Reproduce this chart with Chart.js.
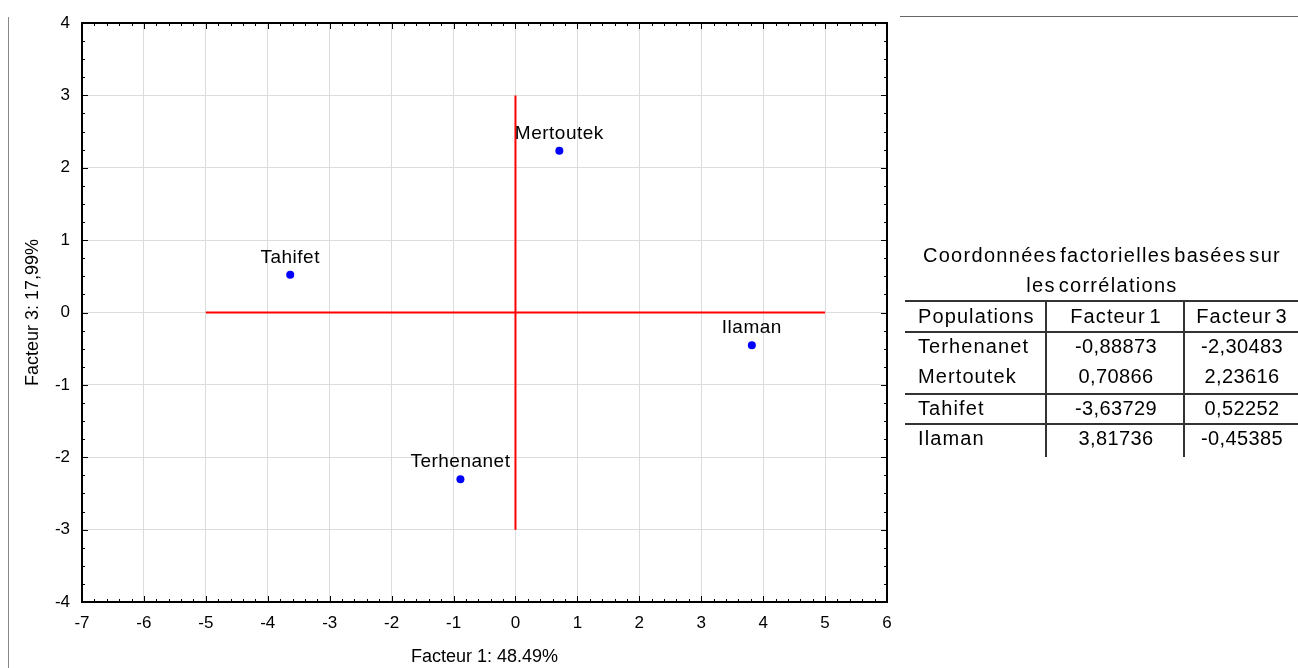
<!DOCTYPE html>
<html>
<head>
<meta charset="utf-8">
<script src="https://cdn.jsdelivr.net/npm/chart.js@4"></script>
<style>
    body { margin: 0; background: #fff; font-family: "Liberation Sans", Arial, sans-serif; color: #000; }
    #wrap { position: relative; width: 1298px; height: 668px; overflow: hidden; }
    #idChartFacteurs { position: absolute; left: 0; top: 0; }
    .hline { position: absolute; height: 2px; background: #333; }
    .vline { position: absolute; width: 2px; background: #333; }
    .cell { position: absolute; height: 24px; line-height: 24px; font-size: 20px; letter-spacing: 0.4px; white-space: nowrap; }
    .txt { letter-spacing: 1.1px; word-spacing: -3px; }
    #titreTable { position: absolute; left: 906px; width: 392px; top: 240px; text-align: center; font-size: 20px; line-height: 30px; letter-spacing: 1.3px; word-spacing: -4px; }
</style>
</head>
<body>
<div id="wrap">
    <canvas id="idChartFacteurs" width="1298" height="668"></canvas>
    <div style="position:absolute;left:8px;top:17px;width:1px;height:651px;background:#888;"></div>
    <div style="position:absolute;left:900px;top:16px;width:398px;height:1px;background:#666;"></div>
    <div id="titreTable">Coordonnées factorielles basées sur<br>les corrélations</div>
    <div id="tableFacteurs"></div>
</div>
<script>
// donnees
var aPopulations = ['Terhenanet', 'Mertoutek', 'Tahifet', 'Ilaman'];
var aFacteur1 = [-0.88873, 0.70866, -3.63729, 3.81736];
var aFacteur3 = [-2.30483, 2.23616, 0.52252, -0.45385];
var aEnTetes = ['Populations', 'Facteur 1', 'Facteur 3'];

// axes rouges
var aAxeHorizontalX = [-5, 5];
var aAxeVerticalY = [-3, 3];

var sTitreX = 'Facteur 1: 48.49%';
var sTitreY = 'Facteur 3: 17,99%';

// table a droite
function initTable() {
    var oTable = document.getElementById('tableFacteurs');
    var sHtml = '';
    var aLignesH = [300, 331, 393, 423];
    var aColX = [[918, 'left'], [1116, 'center'], [1242, 'center']];
    var aRowY = [316, 346, 376, 408, 438];

    for (var i = 0; i < aLignesH.length; i++) {
        sHtml += '<div class="hline" style="left:905px;width:393px;top:' + aLignesH[i] + 'px"></div>';
    }
    sHtml += '<div class="vline" style="left:1045px;top:300px;height:157px"></div>';
    sHtml += '<div class="vline" style="left:1183px;top:300px;height:157px"></div>';

    function cell(sText, iCol, iY, sClass) {
        var iX = aColX[iCol][0];
        if (aColX[iCol][1] === 'left') {
            return '<div class="cell ' + sClass + '" style="left:' + iX + 'px;top:' + (iY - 12) + 'px">' + sText + '</div>';
        }
        return '<div class="cell ' + sClass + '" style="left:' + (iX - 70) + 'px;width:140px;text-align:center;top:' + (iY - 12) + 'px">' + sText + '</div>';
    }

    for (var c = 0; c < aEnTetes.length; c++) {
        sHtml += cell(aEnTetes[c], c, aRowY[0], 'txt');
    }
    for (var r = 0; r < aPopulations.length; r++) {
        sHtml += cell(aPopulations[r], 0, aRowY[r + 1], 'txt');
        sHtml += cell(aFacteur1[r].toFixed(5).replace('.', ','), 1, aRowY[r + 1], '');
        sHtml += cell(aFacteur3[r].toFixed(5).replace('.', ','), 2, aRowY[r + 1], '');
    }
    oTable.innerHTML = sHtml;
}

// cadre + graduations
const pluginCadre = {
    id: 'cadre',
    afterDraw: function (chart) {
        var ctx = chart.ctx;
        var a = chart.chartArea;
        var sx = chart.scales.x;
        var sy = chart.scales.y;
        ctx.save();
        ctx.strokeStyle = '#000';
        ctx.lineWidth = 1;
        ctx.beginPath();
        for (var i = 0; i <= 65; i++) {
            var v = -7 + i * 0.2;
            var px = Math.round(sx.getPixelForValue(v)) + 0.5;
            var l = (i % 5 === 0) ? 6 : 3;
            ctx.moveTo(px, a.bottom); ctx.lineTo(px, a.bottom - l);
            ctx.moveTo(px, a.top); ctx.lineTo(px, a.top + l);
        }
        for (var j = 0; j <= 32; j++) {
            var w = -4 + j * 0.25;
            var py = Math.round(sy.getPixelForValue(w)) + 0.5;
            var m = (j % 4 === 0) ? 6 : 3;
            ctx.moveTo(a.left, py); ctx.lineTo(a.left + m, py);
            ctx.moveTo(a.right, py); ctx.lineTo(a.right - m, py);
        }
        ctx.stroke();
        ctx.lineWidth = 2;
        ctx.strokeRect(a.left, a.top, a.right - a.left, a.bottom - a.top);
        ctx.restore();
    }
};

// noms au-dessus des points
const pluginNoms = {
    id: 'noms',
    afterDatasetsDraw: function (chart) {
        var ctx = chart.ctx;
        var meta = chart.getDatasetMeta(0);
        ctx.save();
        ctx.font = '19px "Liberation Sans", Arial, sans-serif';
        ctx.letterSpacing = '0.5px';
        ctx.fillStyle = '#000';
        ctx.textAlign = 'center';
        ctx.textBaseline = 'alphabetic';
        for (var i = 0; i < meta.data.length; i++) {
            var p = meta.data[i];
            ctx.fillText(aPopulations[i], p.x, p.y - 12);
        }
        ctx.restore();
    }
};

function initChartFacteurs() {

    var aPoints = [];
    for (var i = 0; i < aPopulations.length; i++) {
        aPoints.push({ x: aFacteur1[i], y: aFacteur3[i] });
    }

    const data = {
        datasets: [{
            label: 'Populations',
            data: aPoints,
            backgroundColor: '#0000ff',
            borderColor: '#0000ff',
            pointRadius: 4,
            borderWidth: 0,
            order: 0
        }, {
            label: 'axe horizontal',
            data: [{ x: aAxeHorizontalX[0], y: 0 }, { x: aAxeHorizontalX[1], y: 0 }],
            showLine: true,
            borderColor: '#ff0000',
            borderWidth: 2,
            pointRadius: 0,
            order: 1
        }, {
            label: 'axe vertical',
            data: [{ x: 0, y: aAxeVerticalY[0] }, { x: 0, y: aAxeVerticalY[1] }],
            showLine: true,
            borderColor: '#ff0000',
            borderWidth: 2,
            pointRadius: 0,
            order: 1
        }]
    };

    const config = {
        type: 'scatter',
        data: data,
        plugins: [pluginCadre, pluginNoms],
        options: {
            responsive: false,
            animation: false,
            layout: {
                padding: { left: 0, top: 23, right: 411, bottom: 0 }
            },
            plugins: {
                legend: { display: false },
                tooltip: { enabled: false }
            },
            scales: {
                x: {
                    type: 'linear',
                    min: -7,
                    max: 6,
                    ticks: {
                        stepSize: 1,
                        padding: 11,
                        color: '#000',
                        font: { family: '"Liberation Sans", Arial, sans-serif', size: 17 }
                    },
                    grid: { color: '#dcdcdc', drawTicks: false },
                    border: { display: false },
                    title: {
                        display: true,
                        text: sTitreX,
                        color: '#000',
                        font: { family: '"Liberation Sans", Arial, sans-serif', size: 18 },
                        padding: { top: 0, bottom: 0 }
                    },
                    afterFit: function (s) { s.height = 66; }
                },
                y: {
                    type: 'linear',
                    min: -4,
                    max: 4,
                    ticks: {
                        stepSize: 1,
                        padding: 12,
                        color: '#000',
                        font: { family: '"Liberation Sans", Arial, sans-serif', size: 17 }
                    },
                    grid: { color: '#dcdcdc', drawTicks: false },
                    border: { display: false },
                    title: {
                        display: true,
                        text: sTitreY,
                        color: '#000',
                        font: { family: '"Liberation Sans", Arial, sans-serif', size: 18 },
                        padding: { top: 22, bottom: 0 }
                    },
                    afterFit: function (s) { s.width = 82; }
                }
            }
        }
    };

    const oChartFacteurs = new Chart(
        document.getElementById('idChartFacteurs'),
        config
    );
}

initTable();
initChartFacteurs();
</script>
</body>
</html>
